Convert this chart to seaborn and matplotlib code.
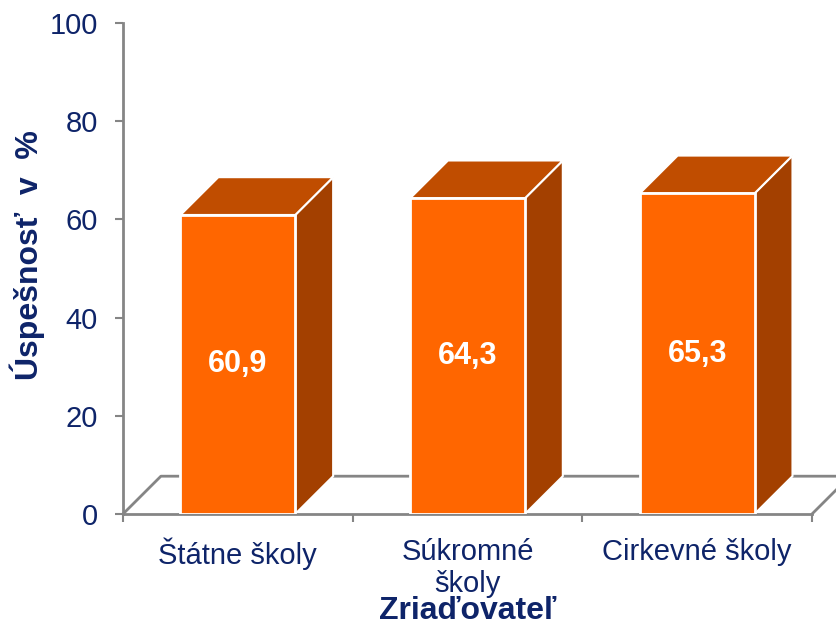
"""3D-style bar chart: success rate by school founder."""

import matplotlib
matplotlib.use("Agg")
import matplotlib.pyplot as plt
from matplotlib.patches import Polygon
import seaborn as sns

categories = ["Štátne školy", "Súkromné\nškoly", "Cirkevné školy"]
values = [60.9, 64.3, 65.3]
value_labels = ["60,9", "64,3", "65,3"]
y_ticks = [0, 20, 40, 60, 80, 100]

NAVY = "#0E2469"
FRONT = "#FF6600"
TOP = "#C04D00"
SIDE = "#A34000"
GRID = "#858585"

sns.set_theme(style="white")
plt.rcParams["font.family"] = ["Liberation Sans", "DejaVu Sans"]

fig = plt.figure(figsize=(8.37, 6.27), dpi=100)
ax = fig.add_axes([123 / 837, 113 / 627, 689 / 837, 491 / 627])

sns.barplot(x=categories, y=values, color=FRONT, saturation=1, width=0.5,
            edgecolor="white", linewidth=2, ax=ax, zorder=3)

# depth offset of the 3D effect (category units, value units)
dx, dy = 0.165, 7.7

# floor
floor = [(-0.5, 0), (-0.5 + dx, dy), (2.5 + dx, dy), (2.5, 0)]
ax.plot([p[0] for p in floor], [p[1] for p in floor], color=GRID, lw=2,
        clip_on=False, zorder=1)

for bar, lab in zip(ax.patches, value_labels):
    x0, w, h = bar.get_x(), bar.get_width(), bar.get_height()
    top = Polygon([(x0, h), (x0 + dx, h + dy), (x0 + w + dx, h + dy), (x0 + w, h)],
                  closed=True, facecolor=TOP, edgecolor="white", lw=1.5, zorder=2)
    side = Polygon([(x0 + w, 0), (x0 + w, h), (x0 + w + dx, h + dy), (x0 + w + dx, dy)],
                   closed=True, facecolor=SIDE, edgecolor="white", lw=1.5, zorder=2)
    ax.add_patch(side)
    ax.add_patch(top)
    ax.text(x0 + w / 2, h / 2, lab, ha="center", va="center", color="white",
            fontsize=22, fontweight="bold", zorder=4)

ax.set_xlim(-0.5, 2.5)
ax.set_ylim(0, 100)
ax.set_yticks(y_ticks)

for side_name in ["top", "right"]:
    ax.spines[side_name].set_visible(False)
for side_name in ["left", "bottom"]:
    ax.spines[side_name].set_color(GRID)
    ax.spines[side_name].set_linewidth(2)

ax.tick_params(axis="y", left=True, length=6, width=1.5, color=GRID,
               labelsize=21, labelcolor=NAVY, pad=12)
ax.set_xticks([0, 1, 2])
ax.set_xticklabels(categories)
ax.set_xticks([-0.5, 0.5, 1.5, 2.5], minor=True)
ax.tick_params(axis="x", which="major", bottom=False, labelsize=21,
               labelcolor=NAVY, pad=11)
ax.tick_params(axis="x", which="minor", bottom=True, length=6, width=1.5,
               color=GRID)

ax.set_ylabel("Úspešnosť  v  %", fontsize=23, fontweight="bold", color=NAVY)
ax.yaxis.set_label_coords(-0.113, 0.527)
ax.set_xlabel("Zriaďovateľ", fontsize=23, fontweight="bold", color=NAVY)
ax.xaxis.set_label_coords(0.5, -0.166)
ax.xaxis.label.set_va("top")

fig.savefig("out.png", dpi=100)
plt.close(fig)
